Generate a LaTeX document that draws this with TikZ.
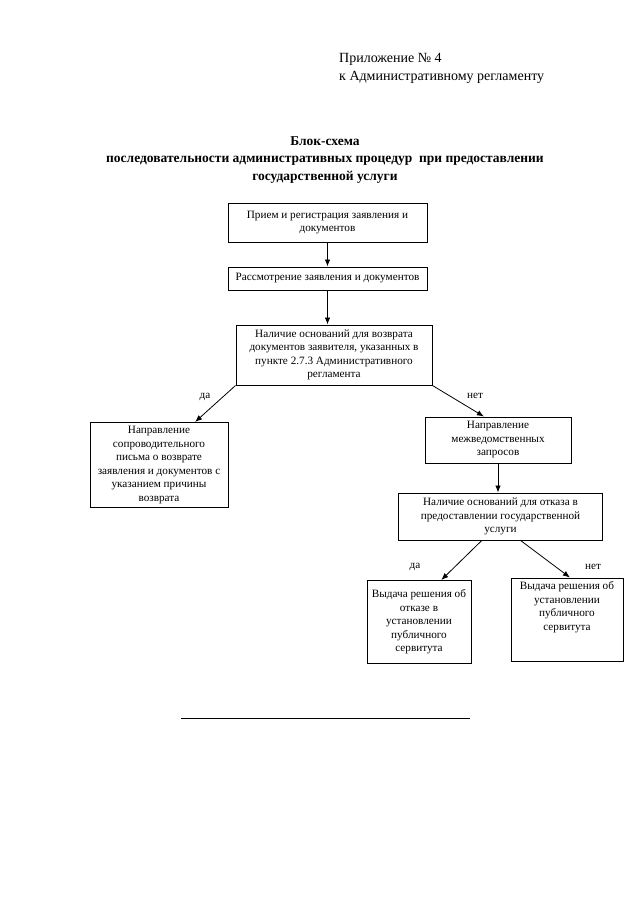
\documentclass[tikz,border=0pt]{standalone}
\usepackage{fontspec}
\setmainfont{Liberation Serif}
\usetikzlibrary{arrows.meta}
\newcommand{\shrift}{\fontsize{11.2}{13.5}\selectfont}

\begin{document}
\begin{tikzpicture}[x=1pt,y=-1pt]
                        \tikzstyle{blok}=[draw, line width=1pt, align=center, inner sep=3pt, font=\shrift]
                        \tikzstyle{strelka}=[line width=0.8pt, -{Latex[length=7pt,width=5.5pt]}]
                        \tikzstyle{metka}=[font=\shrift]
                        \useasboundingbox (0,0) rectangle (640,905);
                        \node[anchor=north west, align=left, inner sep=0pt, font=\fontsize{14}{18}\selectfont] (pril) at (339,53)
                            {Приложение № 4\\к Административному регламенту};
                        \node[align=center, inner sep=0pt, font=\fontsize{13.5}{17.5}\selectfont\bfseries] (zagl) at (325,160)
                            {Блок-схема\\последовательности административных процедур\ \ при предоставлении\\государственной услуги};
                        \node[blok, minimum width=199pt, minimum height=39pt] (priem) at (327.5,222.5)
                            {Прием и регистрация заявления и\\документов};
                        \node[blok, minimum width=199pt, minimum height=23pt] (rassm) at (327.5,278.5)
                            {Рассмотрение заявления и документов};
                        \node[blok, minimum width=196pt, minimum height=60pt] (osnov) at (334,355)
                            {Наличие оснований для возврата\\документов заявителя, указанных в\\пункте 2.7.3 Административного\\регламента};
                        \node[blok, minimum width=138pt, minimum height=85pt] (vozvrat) at (159,465)
                            {Направление\\сопроводительного\\письма о возврате\\заявления и документов с\\указанием причины\\возврата};
                        \node[blok, minimum width=146pt, minimum height=46pt] (zapros) at (498,440)
                            {Направление\\межведомственных\\запросов};
                        \node[blok, minimum width=204pt, minimum height=47pt] (otkaz) at (500.5,516.5)
                            {Наличие оснований для отказа в\\предоставлении государственной\\услуги};
                        \node[blok, minimum width=104pt, minimum height=83pt] (vydotk) at (419,622)
                            {Выдача решения об\\отказе в\\установлении\\публичного\\сервитута};
                        \node[blok, minimum width=112pt, minimum height=83pt] (vydust) at (567,619.5)
                            {Выдача решения об\\установлении\\публичного\\сервитута\\[14pt]};
                        \draw[strelka] (priem.south) -- (rassm.north -| priem.south);
                        \draw[strelka] (rassm.south) -- (osnov.north -| rassm.south);
                        \draw[strelka] (osnov.south west) -- (vozvrat.50);
                        \draw[strelka] (osnov.south east) -- (zapros.121);
                        \draw[strelka] (zapros.south) -- (otkaz.north -| zapros.south);
                        \draw[strelka] (otkaz.232) -- (vydotk.62);
                        \draw[strelka] (otkaz.-50) -- (vydust.86);
                        \node[metka] (da1) at (205,397) {да};
                        \node[metka] (net1) at (475,396) {нет};
                        \node[metka] (da2) at (415,567) {да};
                        \node[metka] (net2) at (593,567) {нет};
                        \draw[line width=0.9pt] (181,718) -- (470,718);
                    \end{tikzpicture}
\end{document}
